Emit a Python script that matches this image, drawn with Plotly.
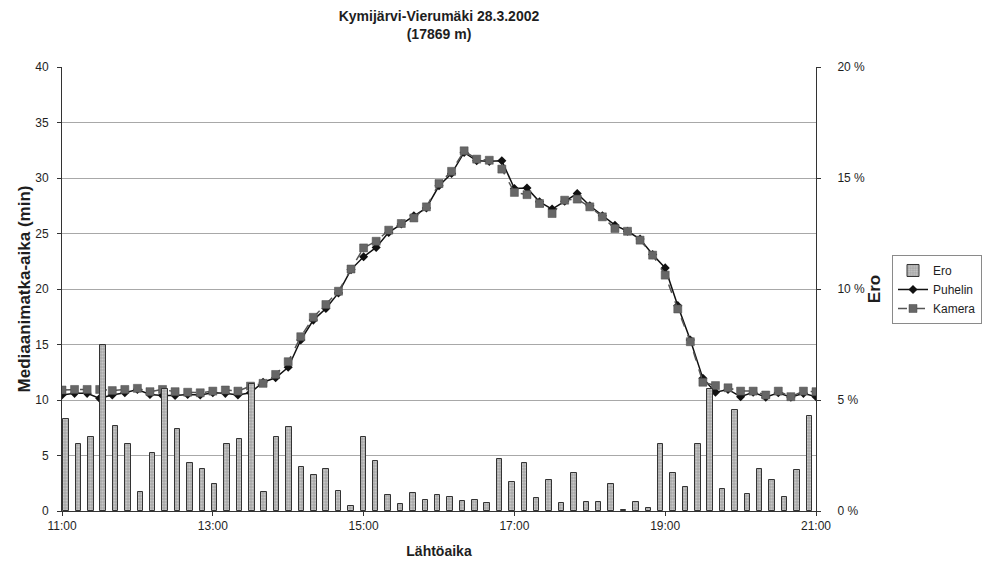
import plotly.graph_objects as go

# ---- data ----
times = [f"2002-03-28 {11 + (m // 60):02d}:{m % 60:02d}" for m in range(0, 601, 10)]

kamera = [10.9, 10.95, 10.95, 10.95, 10.85, 10.95, 11.05, 10.75, 10.95, 10.75,
          10.7, 10.65, 10.8, 10.9, 10.8, 11.25, 11.5, 12.3, 13.45, 15.7,
          17.45, 18.6, 19.8, 21.8, 23.7, 24.3, 25.3, 25.9, 26.4, 27.4,
          29.5, 30.6, 32.45, 31.7, 31.6, 30.8, 28.7, 28.5, 27.7, 26.8,
          28.0, 28.1, 27.4, 26.5, 25.45, 25.2, 24.4, 23.05, 21.25, 18.2,
          15.25, 11.6, 11.3, 11.1, 10.8, 10.8, 10.45, 10.8, 10.3, 10.8, 10.75]

puhelin = [10.45, 10.6, 10.6, 10.15, 10.45, 10.65, 10.95, 10.5, 10.4, 10.4,
           10.5, 10.45, 10.65, 10.6, 10.45, 10.65, 11.6, 12.0, 12.95, 15.4,
           17.2, 18.25, 19.65, 21.75, 22.9, 23.75, 25.1, 25.85, 26.6, 27.3,
           29.3, 30.4, 32.3, 31.55, 31.5, 31.55, 29.05, 29.1, 27.85, 27.2,
           27.9, 28.6, 27.5, 26.6, 25.75, 25.2, 24.5, 23.1, 21.9, 18.5,
           15.4, 11.95, 10.7, 10.95, 10.3, 10.7, 10.25, 10.65, 10.25, 10.6, 10.3]

ero = [4.13, 3.0, 3.32, 7.48, 3.83, 3.0, 0.87, 2.6, 5.5, 3.68,
       2.15, 1.88, 1.22, 3.0, 3.23, 5.7, 0.84, 3.35, 3.8, 2.0,
       1.6, 1.88, 0.91, 0.23, 3.35, 2.27, 0.72, 0.32, 0.8, 0.48,
       0.72, 0.64, 0.45, 0.5, 0.37, 2.36, 1.31, 2.15, 0.6, 1.41,
       0.35, 1.7, 0.42, 0.42, 1.23, 0.05, 0.39, 0.12, 3.02, 1.7,
       1.1, 3.02, 5.5, 1.0, 4.54, 0.75, 1.9, 1.38, 0.64, 1.83, 4.3]

left_ticks = [0, 5, 10, 15, 20, 25, 30, 35, 40]
right_ticks = [0, 5, 10, 15, 20]
right_ticktext = ["0 %", "5 %", "10 %", "15 %", "20 %"]

FONT = "Liberation Sans, Arial, sans-serif"
TXT = "#1e1e1e"

W, H = 985, 561
ML, MR, MT, MB = 54, 177, 59, 58

fig = go.Figure()

fig.add_trace(go.Bar(
    x=times, y=ero, name="Ero", xaxis="x2", yaxis="y2",
    width=4.4 * 60 * 1000,
    marker=dict(color="#a9a9a9",
                line=dict(color="#333333", width=1),
                pattern=dict(shape=".", fgcolor="#e8e8e8", size=3, solidity=0.4)),
))

fig.add_trace(go.Scatter(
    x=times, y=puhelin, name="Puhelin", mode="lines+markers",
    line=dict(color="#111111", width=1.5),
    marker=dict(symbol="diamond", size=7, color="#111111"),
))

fig.add_trace(go.Scatter(
    x=times, y=kamera, name="Kamera", mode="lines+markers",
    line=dict(color="#555555", width=1.5, dash="dash"),
    marker=dict(symbol="square", size=8, color="#676767",
                line=dict(color="#4a4a4a", width=0.5)),
))

fig.update_layout(
    width=W, height=H,
    margin=dict(l=ML, r=MR, t=MT, b=MB, autoexpand=False),
    paper_bgcolor="white", plot_bgcolor="white",
    font=dict(family=FONT, size=12, color=TXT),
    title=dict(text="<b>Kymijärvi-Vierumäki 28.3.2002<br>(17869 m)</b>",
               x=(ML + (W - MR)) / 2 / W, xanchor="center",
               yref="container", y=1, yanchor="top",
               pad=dict(t=13),
               font=dict(size=14, color=TXT)),
    showlegend=True,
    legend=dict(x=1.1008, xanchor="left", y=0.5766, yanchor="top",
                bordercolor="#8a8a8a", borderwidth=1, bgcolor="white",
                font=dict(size=12, color=TXT), tracegroupgap=0,
                itemwidth=30),
    bargap=0,
    xaxis=dict(
        type="date",
        range=["2002-03-28 11:00", "2002-03-28 21:00"],
        dtick=2 * 3600 * 1000, tick0="2002-03-28 11:00", tickformat="%H:%M",
        showgrid=False, showline=True, linecolor="#333333", linewidth=1,
        ticks="outside", ticklen=4, tickcolor="#333333",
        tickfont=dict(size=12, color=TXT),
        title=dict(text="<b>Lähtöaika</b>", font=dict(size=14, color=TXT), standoff=13),
        zeroline=False,
    ),
    xaxis2=dict(
        type="date", overlaying="x", visible=False,
        range=["2002-03-28 10:56:46", "2002-03-28 21:05:24"],
    ),
    yaxis=dict(
        range=[0, 40], tickvals=left_ticks,
        showgrid=True, gridcolor="#a8a8a8", gridwidth=1,
        showline=True, linecolor="#333333", linewidth=1, mirror=False,
        ticks="outside", ticklen=4, tickcolor="#333333",
        ticklabelstandoff=6,
        tickfont=dict(size=12, color=TXT),
        title=dict(text="<b>Mediaanimatka-aika (min)</b>", font=dict(size=17, color=TXT), standoff=0),
        zeroline=False,
    ),
    yaxis2=dict(
        range=[0, 20], tickvals=right_ticks, ticktext=right_ticktext,
        overlaying="y", side="right", showgrid=False,
        showline=True, linecolor="#333333", linewidth=1,
        ticks="outside", ticklen=4, tickcolor="#333333",
        ticklabelstandoff=14,
        tickfont=dict(size=12, color=TXT),
        title=dict(text="<b>Ero</b>", font=dict(size=17, color=TXT), standoff=4),
        zeroline=False,
    ),
)

fig.write_html("out.html")
